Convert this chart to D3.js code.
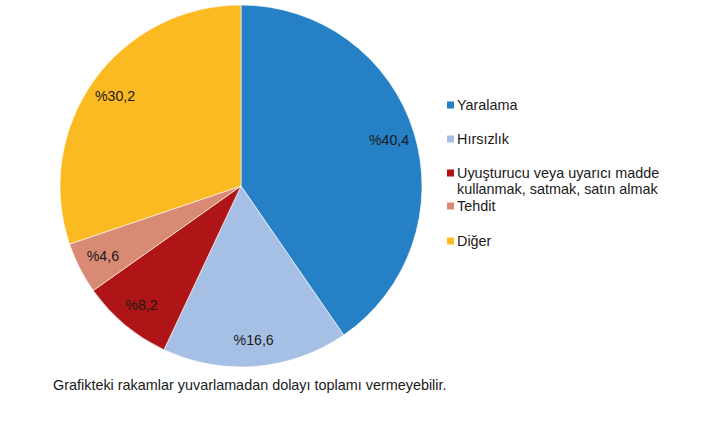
<!DOCTYPE html>
<html><head><meta charset="utf-8">
<script src="https://cdn.jsdelivr.net/npm/d3@7"></script>
<style>body{margin:0;background:#fff}svg{display:block;font-family:"Liberation Sans",Arial,sans-serif}</style>
</head><body>
<svg id="c" width="709" height="427"></svg>
<script>
const categories = ["Yaralama", "Hırsızlık", "Uyuşturucu veya uyarıcı madde\nkullanmak, satmak, satın almak", "Tehdit", "Diğer"];
const values = [40.4, 16.6, 8.2, 4.6, 30.2];
const valueLabels = ["%40,4", "%16,6", "%8,2", "%4,6", "%30,2"];
const colors = ["#2580C5", "#A6BFE4", "#AF1517", "#D88A74", "#FBB922"];
const note = "Grafikteki rakamlar yuvarlamadan dolayı toplamı vermeyebilir.";

const svg = d3.select("#c");
const cx = 241, cy = 186, R = 181;
const g = svg.append("g").attr("transform", `translate(${cx},${cy})`);
const pie = d3.pie().sort(null).value(d => d)(values);
const arc = d3.arc().innerRadius(0).outerRadius(R);
const labelArc = d3.arc().innerRadius(155).outerRadius(155);

g.selectAll("path").data(pie).join("path")
  .attr("d", arc).attr("fill", (d, i) => colors[i])
  .attr("stroke", "#fff").attr("stroke-width", 0.6);

g.selectAll("text").data(pie).join("text")
  .attr("transform", d => `translate(${labelArc.centroid(d)})`)
  .attr("text-anchor", "middle").attr("dy", "0.35em")
  .attr("font-size", 14.2).attr("fill", "#1a1a1a")
  .text((d, i) => valueLabels[i]);

const legendY = [105, 139, 173, 206, 241];
const lg = svg.append("g");
categories.forEach((c, i) => {
  lg.append("rect").attr("x", 447).attr("y", legendY[i] - 3.5).attr("width", 7).attr("height", 7).attr("fill", colors[i]);
  const lines = c.split("\n");
  const t = lg.append("text").attr("x", 457).attr("y", legendY[i])
    .attr("font-size", 14.4).attr("fill", "#1a1a1a");
  lines.forEach((l, j) => t.append("tspan").attr("x", 457).attr("dy", j === 0 ? "0.35em" : 16).text(l));
});

svg.append("text").attr("x", 53).attr("y", 385).attr("dy", "0.35em")
  .attr("font-size", 14.4).attr("fill", "#1a1a1a").text(note);
</script>
</body></html>
